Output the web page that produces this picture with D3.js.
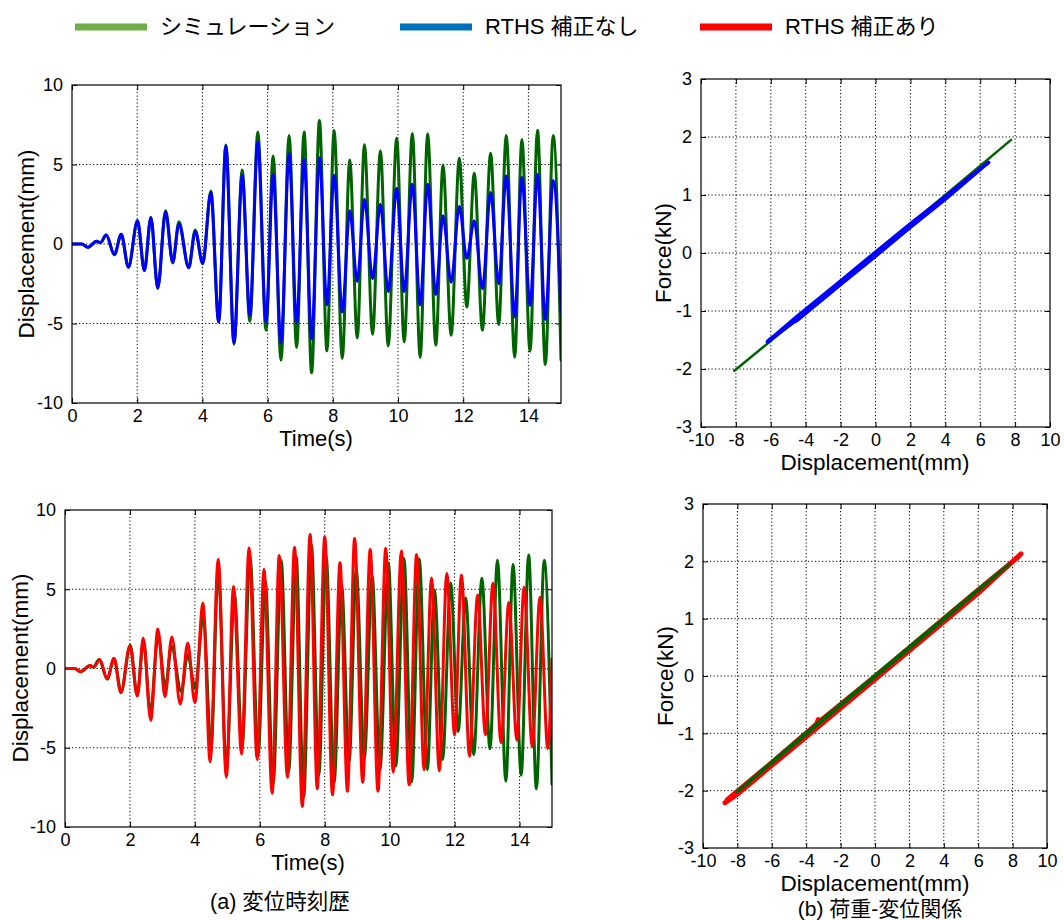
<!DOCTYPE html>
<html><head><meta charset="utf-8">
<script src="https://cdn.jsdelivr.net/npm/d3@7"></script>
<style>
body{margin:0;background:#fff;}
text{font-family:"Liberation Sans",Arial,"Noto Sans CJK JP",sans-serif;fill:#000;}
</style>
</head><body>
<svg id="chart" width="1064" height="920"></svg>
<script>
// ---------------- data ----------------
const legendLabels = ["シミュレーション", "RTHS 補正なし", "RTHS 補正あり"];
const captionA = "(a) 変位時刻歴";
const captionB = "(b) 荷重-変位関係";

// time-history: simulation (extrema)
const simTime = [0,0.3,0.48,0.76,0.87, 1.05,1.30,1.51,1.73, 2.01,2.22,2.42,2.63,2.87, 3.09,3.28,3.58,3.78, 4.01,4.26,4.50,4.72,4.97, 5.22,5.455,5.70,5.95, 6.17,6.41,6.66,6.89, 7.12,7.35,7.59,7.82, 8.04,8.29,8.52,8.75,8.97, 9.22,9.46,9.70,9.96, 10.19,10.44,10.68,10.91, 11.16,11.38,11.63,11.88, 12.11,12.34,12.59,12.84, 13.09,13.32,13.58,13.80, 14.05,14.28,14.52,14.76,15.0];
const simDisp = [0,0,-0.21,0.17,0.08, 0.56,-0.67,0.61,-1.46, 1.46,-1.67,1.67,-2.78,2.09, -1.19,1.40,-1.46,0.88, -1.25,3.34,-4.90,6.22,-6.30, 4.66,-4.86,7.04,-5.43, 5.53,-7.31,6.83,-6.51, 7.04,-8.10,7.77,-6.72, 7.16,-7.20,5.28,-5.91,6.24, -5.68,5.85,-6.41,6.66, -6.16,6.95,-7.14,6.93, -6.37,4.95,-5.74,5.39, -3.97,4.45,-5.43,5.70, -5.07,6.83,-7.12,6.58, -6.74,7.16,-7.58,6.83,-7.30];

// RTHS without correction
const noCorrTime = simTime;
const noCorrDisp = [0,0,-0.21,0.17,0.08, 0.56,-0.67,0.61,-1.46, 1.46,-1.67,1.67,-2.78,2.03, -1.15,1.25,-1.50,0.79, -1.21,3.24,-4.90,6.16,-6.22, 4.32,-4.49,6.45,-4.90, 4.38,-6.22,5.68,-4.97, 5.32,-5.95,5.43,-3.82, 4.32,-4.28,2.09,-2.36,2.82, -2.19,2.50,-2.99,3.49, -2.99,3.76,-3.82,3.76, -3.17,1.77,-2.40,2.36, -0.90,1.46,-2.82,3.24, -2.50,4.28,-4.59,4.18, -3.86,4.38,-4.74,4.00,-4.30];

// RTHS with correction
const corrTime = [0,0.3,0.47,0.78,0.89, 1.07,1.30,1.51,1.72, 2.00,2.23,2.41,2.64,2.86, 3.08,3.29,3.55,3.78, 4.00,4.25,4.47,4.72,4.97, 5.19,5.44,5.67,5.92, 6.13,6.38,6.60,6.85, 7.07,7.31,7.55,7.77, 8.00,8.24,8.47,8.70,8.92, 9.17,9.40,9.64,9.88, 10.11,10.36,10.60,10.83, 11.06,11.29,11.53,11.76, 12.00,12.21,12.46,12.71, 12.95,13.18,13.43,13.67, 13.92,14.14,14.39,14.63,14.87,15.0];
const corrDisp = [0,0,-0.19,0.19,0.08, 0.56,-0.65,0.65,-1.53, 1.44,-1.74,1.92,-3.26,2.49, -1.78,1.99,-2.24,1.61, -2.15,4.12,-5.88,6.90,-6.86, 5.17,-5.40,7.62,-5.75, 6.26,-7.87,7.13,-6.86, 7.64,-8.70,8.45,-7.59, 8.30,-7.97,6.67,-7.74,8.20, -7.18,7.51,-7.74,7.59, -6.55,7.41,-7.34,7.20, -6.40,5.71,-6.46,6.00, -4.20,5.90,-5.54,4.64, -4.18,5.38,-4.67,4.16, -4.52,5.13,-4.92,4.50,-5.04,0.60];

// force-displacement relations
const fdSimDisp  = [-8.09,-4,0,4,7.77];
const fdSimForce = [-2.03,-1.02,-0.01,1.0,1.95];
const fdNoCorrDisp  = [-6.18,-4.7,-4.5,-2,0,2,4,6.47, 6.3,4,2,0,-2,-4.5,-4.75,-6.1];
const fdNoCorrForce = [-1.53,-1.15,-1.10,-0.49,0.01,0.50,0.97,1.56, 1.52,0.93,0.45,-0.05,-0.54,-1.16,-1.20,-1.50];
const fdSim2Disp  = [-8.04,-6,-4,-2,0,2,4,6,7.81, 7.6,6,4,2,0,-2,-4,-6,-7.9];
const fdSim2Force = [-2.02,-1.50,-0.99,-0.49,0.01,0.51,1.01,1.51,1.95, 1.90,1.49,0.98,0.48,-0.02,-0.52,-1.02,-1.52,-2.0];
const fdCorrDisp  = [-8.72,-8,-6,-4,-2,0,2,4,6,8.49, 8.3,6,4,2,0,-3.2,-3.3,-3.4,-6,-8.6];
const fdCorrForce = [-2.21,-2.06,-1.56,-1.06,-0.56,-0.06,0.445,0.945,1.445,2.13, 2.07,1.50,1.00,0.495,-0.006,-0.79,-0.76,-0.84,-1.51,-2.16];

const timeTicks = [0,2,4,6,8,10,12,14];
const dispTicks = [-10,-5,0,5,10];
const fdXTicks = [-10,-8,-6,-4,-2,0,2,4,6,8,10];
const fdYTicks = [-3,-2,-1,0,1,2,3];

const colSim = "#006400", colNo = "#0000ff", colCorr = "#ff0000";
const legendColors = ["#70ad47", "#0070c0", "#ff0000"];

// ---------------- drawing ----------------
const svg = d3.select("#chart");
const fmt = d => String(d);
let clipId = 0;

function panel(cfg) {
  const {x0,x1,y0,y1,xDom,yDom,xTicks,yTicks} = cfg;
  const x = d3.scaleLinear().domain(xDom).range([x0,x1]);
  const y = d3.scaleLinear().domain(yDom).range([y1,y0]);
  const w = x1-x0, h = y1-y0;
  const g = svg.append("g");
  // grid
  const grid = g.append("g").attr("stroke","#000").attr("stroke-width",1).attr("stroke-dasharray","1.2,2.3");
  xTicks.filter(v => v!==xDom[0] && v!==xDom[1]).forEach(v=>{
    grid.append("line").attr("x1",x(v)).attr("x2",x(v)).attr("y1",y0).attr("y2",y1);
  });
  yTicks.filter(v => v!==yDom[0] && v!==yDom[1]).forEach(v=>{
    grid.append("line").attr("x1",x0).attr("x2",x1).attr("y1",y(v)).attr("y2",y(v));
  });
  // axes
  const ax = (sel, tx) => { sel.attr("transform", tx); sel.select(".domain").remove();
    sel.selectAll("text").style("font-size","18px").attr("fill","#000");
    sel.selectAll("line").attr("stroke","#000"); };
  g.append("g").call(d3.axisBottom(x).tickValues(xTicks).tickFormat(fmt).tickSizeInner(-5).tickSizeOuter(0).tickPadding(6)).call(ax, `translate(0,${y1})`);
  g.append("g").call(d3.axisTop(x).tickValues(xTicks).tickFormat("").tickSizeInner(-5).tickSizeOuter(0)).call(ax, `translate(0,${y0})`);
  g.append("g").call(d3.axisLeft(y).tickValues(yTicks).tickFormat(fmt).tickSizeInner(-5).tickSizeOuter(0).tickPadding(9)).call(ax, `translate(${x0},0)`);
  g.append("g").call(d3.axisRight(y).tickValues(yTicks).tickFormat("").tickSizeInner(-5).tickSizeOuter(0)).call(ax, `translate(${x1},0)`);
  // clip
  const id = "clip"+(clipId++);
  svg.append("clipPath").attr("id",id).append("rect").attr("x",x0).attr("y",y0).attr("width",w).attr("height",h);
  const plot = g.append("g").attr("clip-path",`url(#${id})`);
  // frame
  g.append("rect").attr("x",x0).attr("y",y0).attr("width",w).attr("height",h)
    .attr("fill","none").attr("stroke","#000").attr("stroke-width",1.2);
  return {x,y,plot,g};
}

function series(p, xs, ys, color, width, curve) {
  const pts = xs.map((v,i)=>[v, ys[i]]);
  const line = d3.line().x(d=>p.x(d[0])).y(d=>p.y(d[1]));
  if (curve) line.curve(curve);
  p.plot.append("path").datum(pts).attr("d",line).attr("fill","none")
    .attr("stroke",color).attr("stroke-width",width).attr("stroke-linejoin","round").attr("stroke-linecap","round");
}

function label(txt, x, y, size, rot) {
  const t = svg.append("text").text(txt).attr("text-anchor","middle").style("font-size",size+"px");
  if (rot) t.attr("transform",`translate(${x},${y}) rotate(-90)`);
  else t.attr("x",x).attr("y",y);
  return t;
}

// (a) top: simulation vs RTHS without correction
const p1 = panel({x0:72,x1:561,y0:85,y1:403,xDom:[0,15],yDom:[-10,10],xTicks:timeTicks,yTicks:dispTicks});
series(p1, simTime, simDisp, colSim, 3, d3.curveMonotoneX);
series(p1, noCorrTime, noCorrDisp, colNo, 3, d3.curveMonotoneX);
label("Time(s)", 316, 446, 22);
label("Displacement(mm)", 34, 244, 22.5, true);

// (a) bottom: simulation vs RTHS with correction
const p2 = panel({x0:65,x1:552,y0:510,y1:827,xDom:[0,15],yDom:[-10,10],xTicks:timeTicks,yTicks:dispTicks});
series(p2, simTime, simDisp, colSim, 3, d3.curveMonotoneX);
series(p2, corrTime, corrDisp, colCorr, 3, d3.curveMonotoneX);
label("Time(s)", 308, 869.5, 22);
label("Displacement(mm)", 28, 668, 22.5, true);

// (b) top
const p3 = panel({x0:701,x1:1050,y0:79,y1:427,xDom:[-10,10],yDom:[-3,3],xTicks:fdXTicks,yTicks:fdYTicks});
series(p3, fdSimDisp, fdSimForce, colSim, 2.5);
series(p3, fdNoCorrDisp, fdNoCorrForce, colNo, 4);
label("Displacement(mm)", 875, 469.5, 22.5);
label("Force(kN)", 671, 253, 22.5, true);

// (b) bottom
const p4 = panel({x0:703,x1:1047,y0:504,y1:848,xDom:[-10,10],yDom:[-3,3],xTicks:fdXTicks,yTicks:fdYTicks});
series(p4, fdCorrDisp, fdCorrForce, colCorr, 5);
series(p4, fdSim2Disp, fdSim2Force, colSim, 3);
label("Displacement(mm)", 875, 890.5, 22.5);
label("Force(kN)", 673, 676, 22.5, true);

// captions
label(captionA, 280, 909, 21.5);
label(captionB, 880, 915.5, 21);

// legend
const legX = [75, 400, 700];
const leg = svg.append("g");
legendLabels.forEach((t,i)=>{
  leg.append("line").attr("x1",legX[i]).attr("x2",legX[i]+72).attr("y1",27).attr("y2",27)
    .attr("stroke",legendColors[i]).attr("stroke-width",7);
  leg.append("text").attr("x",legX[i]+85).attr("y",34).text(t).style("font-size","22px");
});
</script>
</body></html>
